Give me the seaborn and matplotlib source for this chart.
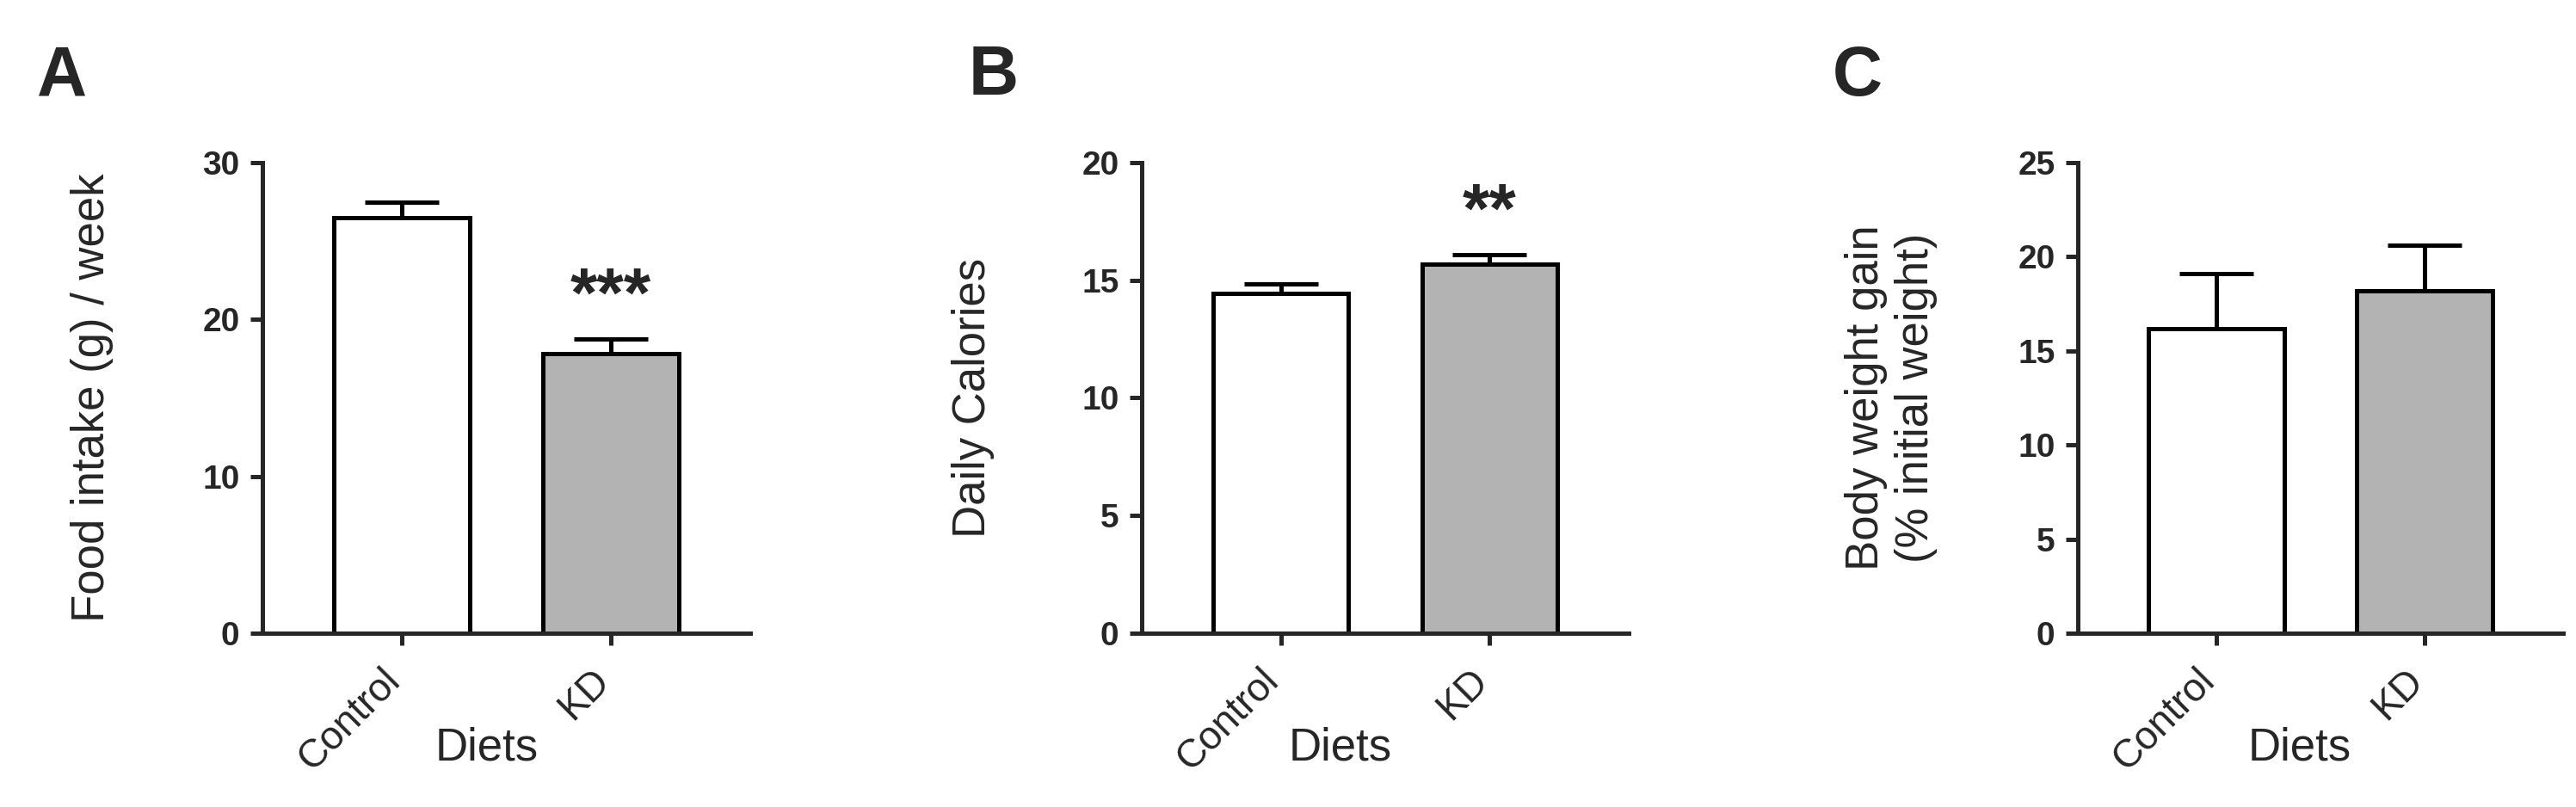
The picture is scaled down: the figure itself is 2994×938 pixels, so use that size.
import numpy as np
import pandas as pd
import matplotlib
matplotlib.use("Agg")
import matplotlib.pyplot as plt
import seaborn as sns

diets = ["Control", "KD"]

food_mean = [26.5, 17.8]
food_err = [1.0, 0.95]

calories_mean = [14.45, 15.7]
calories_err = [0.38, 0.4]

weight_mean = [16.2, 18.2]
weight_err = [2.9, 2.4]

panels = [
    ("A", food_mean, food_err, "Food intake (g) / week", 30, 10, "***"),
    ("B", calories_mean, calories_err, "Daily Calories", 20, 5, "**"),
    ("C", weight_mean, weight_err, "Body weight gain\n(% initial weight)", 25, 5, None),
]

bar_colors = ["#ffffff", "#b3b3b3"]

sns.set_style("ticks")
plt.rcParams["font.family"] = ["Liberation Sans", "DejaVu Sans"]

fig = plt.figure(figsize=(29.94, 9.38), dpi=100)

ax_left = [305, 1327, 2415]
ax_width = [567, 566, 564]
ylabel_x = [-0.305, -0.302, -0.289]
xlabel_x = [0.460, 0.408, 0.457]
letter_x = [72, 1155, 2159]

lw = 3.6

for i, (letter, means, errs, ylab, ymax, ystep, stars) in enumerate(panels):
    ax = fig.add_axes([ax_left[i] / 2994, 202 / 938, ax_width[i] / 2994, 547 / 938])
    df = pd.DataFrame({"Diet": diets, "value": means})
    sns.barplot(data=df, x="Diet", y="value", hue="Diet", palette=bar_colors,
                edgecolor="black", linewidth=lw, width=0.65, legend=False,
                saturation=1, ax=ax, zorder=2)
    ax.errorbar(x=np.arange(len(diets)), y=means, yerr=[np.zeros(len(errs)), errs],
                fmt="none", ecolor="black", elinewidth=lw, capsize=31,
                capthick=lw, zorder=1)
    ax.set_xlim(-0.665, 1.665)
    ax.set_ylim(0, ymax)
    ax.set_yticks(np.arange(0, ymax + 0.1, ystep))
    sns.despine(ax=ax)
    for side in ["left", "bottom"]:
        ax.spines[side].set_linewidth(lw)
    ax.tick_params(axis="both", width=lw, length=10, direction="out")
    ax.tick_params(axis="y", labelsize=28, pad=9)
    for t in ax.get_yticklabels():
        t.set_fontweight("bold")
    ax.tick_params(axis="x", labelsize=33, pad=31)
    for t in ax.get_xticklabels():
        t.set_rotation(45)
        t.set_ha("right")
        t.set_va("baseline")
        t.set_rotation_mode("anchor")
    ax.set_ylabel(ylab, fontsize=38, linespacing=1.2)
    ax.yaxis.set_label_coords(ylabel_x[i], 0.5)
    ax.set_xlabel("Diets", fontsize=38)
    ax.xaxis.label.set_verticalalignment("baseline")
    ax.xaxis.set_label_coords(xlabel_x[i], -0.269)
    if stars:
        top = means[1] + errs[1]
        ax.annotate(stars, xy=(1, top), xytext=(0, 34), textcoords="offset points",
                    ha="center", va="center", fontsize=58, fontweight="bold")
    fig.text(letter_x[i] / 2994, 1 - 81 / 938, letter, ha="center", va="center_baseline",
             fontsize=58, fontweight="bold")

fig.savefig("out.png", dpi=100)
